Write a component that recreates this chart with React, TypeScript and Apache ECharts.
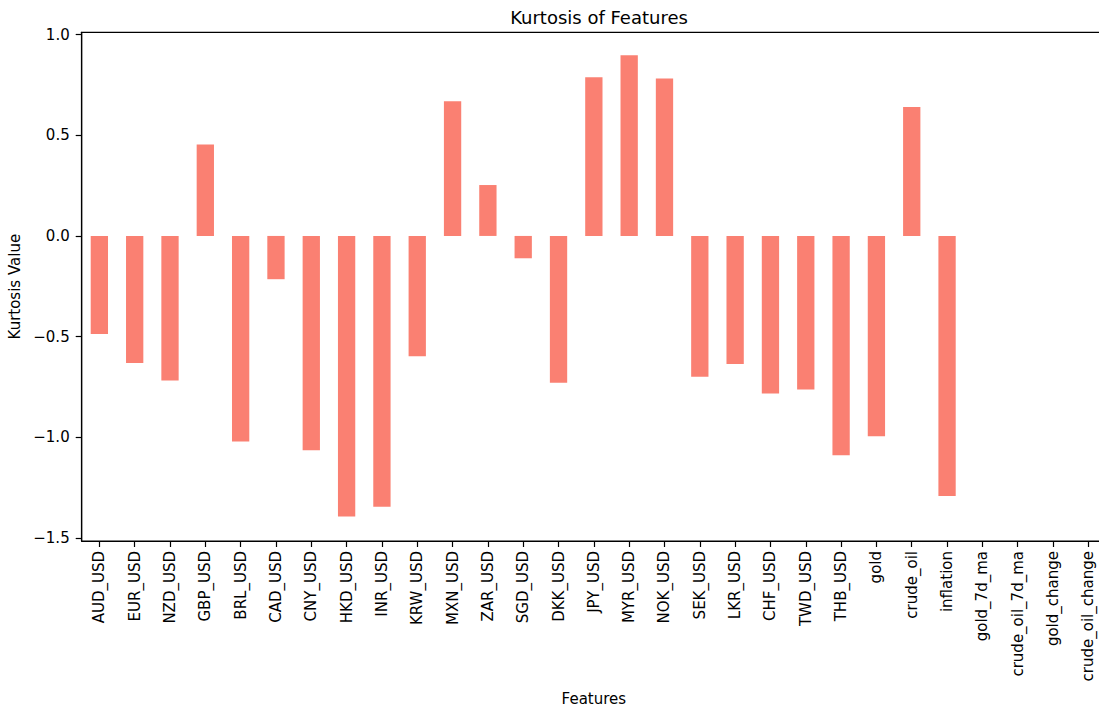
import React, { useEffect, useRef } from "react";
import * as echarts from "echarts";

// Feature names along the x axis
const features: string[] = [
  "AUD_USD", "EUR_USD", "NZD_USD", "GBP_USD", "BRL_USD", "CAD_USD", "CNY_USD",
  "HKD_USD", "INR_USD", "KRW_USD", "MXN_USD", "ZAR_USD", "SGD_USD", "DKK_USD",
  "JPY_USD", "MYR_USD", "NOK_USD", "SEK_USD", "LKR_USD", "CHF_USD", "TWD_USD",
  "THB_USD", "gold", "crude_oil", "inflation", "gold_7d_ma", "crude_oil_7d_ma",
  "gold_change", "crude_oil_change",
];

// Kurtosis per feature (null = no value available)
const kurtosis: (number | null)[] = [
  -0.487, -0.631, -0.718, 0.454, -1.022, -0.215, -1.065,
  -1.394, -1.346, -0.598, 0.669, 0.253, -0.111, -0.730,
  0.788, 0.898, 0.783, -0.700, -0.636, -0.783, -0.763,
  -1.090, -0.996, 0.641, -1.292, null, null,
  null, null,
];

// Y tick positions
const yTicks: number[] = [-1.5, -1.0, -0.5, 0.0, 0.5, 1.0];

const FONT = "DejaVu Sans";

const fmt = (v: number) => v.toFixed(1).replace("-", "\u2212");

export default function App() {
  const ref = useRef<HTMLDivElement>(null);

  useEffect(() => {
    if (!ref.current) return;
    const chart = echarts.init(ref.current, null, { renderer: "svg" });
    chart.setOption({
      animation: false,
      backgroundColor: "#ffffff",
      title: {
        text: "Kurtosis of Features",
        left: 594,
        top: 3,
        textAlign: "center",
        textStyle: { fontFamily: FONT, fontSize: 18, fontWeight: "normal", color: "#000" },
      },
      grid: {
        left: 81.7,
        top: 32.3,
        right: 4,
        bottom: 165,
        containLabel: false,
        outerBoundsMode: "none",
        show: true,
        borderColor: "#000",
        borderWidth: 1.2,
        backgroundColor: "transparent",
      },
      xAxis: {
        type: "category",
        data: features,
        name: "Features",
        nameLocation: "middle",
        nameGap: 150,
        nameTextStyle: { fontFamily: FONT, fontSize: 15, color: "#000" },
        axisLine: { show: true, onZero: false, lineStyle: { color: "#000", width: 1.2 } },
        axisTick: { show: true, alignWithLabel: true, length: 6, lineStyle: { color: "#000", width: 1.2 } },
        axisLabel: {
          rotate: 90,
          interval: 0,
          margin: 10,
          fontFamily: FONT,
          fontSize: 15,
          color: "#000",
        },
        splitLine: { show: false },
      },
      yAxis: {
        type: "value",
        min: -1.516,
        max: 1.012,
        name: "Kurtosis Value",
        nameLocation: "middle",
        nameGap: 54,
        nameTextStyle: { fontFamily: FONT, fontSize: 15, color: "#000" },
        axisLine: { show: true, lineStyle: { color: "#000", width: 1.2 } },
        axisTick: { show: true, length: 6, customValues: yTicks, lineStyle: { color: "#000", width: 1.2 } },
        axisLabel: {
          customValues: yTicks,
          formatter: (v: number) => fmt(v),
          margin: 12,
          fontFamily: FONT,
          fontSize: 15,
          color: "#000",
        },
        splitLine: { show: false },
      },
      series: [
        {
          type: "bar",
          data: kurtosis,
          barWidth: "49%",
          itemStyle: { color: "#FA8072" },
        },
      ],
    });
    return () => chart.dispose();
  }, []);

  return (
    <div
      style={{
        position: "absolute",
        left: 0,
        top: 0,
        width: 1099,
        height: 706,
        overflow: "hidden",
        background: "#fff",
      }}
    >
      <div ref={ref} style={{ width: 1110, height: 706 }} />
    </div>
  );
}
